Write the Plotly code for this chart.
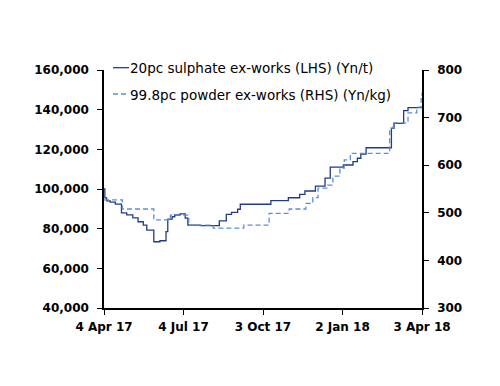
import plotly.graph_objects as go

sulphate_dates = ["2017-04-04","2017-04-05","2017-04-07","2017-04-11","2017-04-17","2017-04-24",
    "2017-04-30","2017-05-07","2017-05-13","2017-05-19","2017-05-23","2017-05-31","2017-06-07",
    "2017-06-14","2017-06-16","2017-06-21","2017-06-24","2017-06-30","2017-07-06","2017-07-09",
    "2017-07-23","2017-08-14","2017-08-22","2017-08-28","2017-09-04","2017-09-07","2017-10-12",
    "2017-11-01","2017-11-14","2017-11-20","2017-12-02","2017-12-13","2017-12-19","2018-01-03",
    "2018-01-14","2018-01-19","2018-01-23","2018-01-29","2018-02-27","2018-03-02","2018-03-13",
    "2018-03-18","2018-04-03"]
sulphate_vals = [100000,95500,94000,93400,92400,88000,87000,85400,83500,81800,79300,73400,73900,
    78500,84800,86000,86900,87500,85300,81800,81500,83900,87200,88200,89800,92300,94100,95600,
    97300,99000,101500,105500,111000,112100,113800,115500,117600,120800,130600,133100,139500,
    141000,141000]

powder_dates = ["2017-04-04","2017-04-25","2017-05-31","2017-06-19","2017-07-10","2017-08-07",
    "2017-09-11","2017-10-10","2017-11-02","2017-11-21","2017-11-29","2017-12-05","2017-12-16",
    "2017-12-22","2017-12-30","2018-01-04","2018-01-11","2018-02-25","2018-03-01","2018-03-18",
    "2018-03-28","2018-04-02","2018-04-03"]
powder_vals = [527,508,485,495,474,468,474,499,508,520,532,552,558,577,594,611,625,678,689,710,
    722,740,752]

x_tickvals = ["2017-04-04","2017-07-04","2017-10-03","2018-01-02","2018-04-03"]
x_ticktext = ["4 Apr 17","4 Jul 17","3 Oct 17","2 Jan 18","3 Apr 18"]

series_names = ["20pc sulphate ex-works (LHS) (Yn/t)", "99.8pc powder ex-works (RHS) (Yn/kg)"]
dark = "#1f3c88"
light = "#5b8fd9"
dash_pat = "5px,3px"

tick_font = dict(family="DejaVu Sans", size=12, color="black", weight="bold")
leg_font = dict(family="DejaVu Sans", size=13.5, color="black")

fig = go.Figure()
fig.add_trace(go.Scatter(x=sulphate_dates, y=sulphate_vals, mode="lines", line_shape="hv",
    name=series_names[0], line=dict(color=dark, width=1.3), showlegend=False))
fig.add_trace(go.Scatter(x=powder_dates, y=powder_vals, mode="lines", line_shape="hv",
    name=series_names[1], yaxis="y2", showlegend=False,
    line=dict(color=light, width=1.3, dash=dash_pat)))

# legend drawn as text + short line samples (plot area 318 x 238 px)
def px_x(p):
    return (p - 104) / 318.0
def px_y(p):
    return (308 - p) / 238.0

leg_rows = [(67.7, dark, "solid"), (94.0, light, dash_pat)]
for (yy, col, ds), name in zip(leg_rows, series_names):
    fig.add_shape(type="line", xref="paper", yref="paper", x0=px_x(113), x1=px_x(129),
                  y0=px_y(yy), y1=px_y(yy), line=dict(color=col, width=1.3, dash=ds))
    fig.add_annotation(xref="paper", yref="paper", x=px_x(128), y=px_y(yy + 0.5),
                       xanchor="left", yanchor="middle", text=name, showarrow=False,
                       font=leg_font)

axis_common = dict(showline=True, linecolor="black", linewidth=1.5, ticks="outside",
                   ticklen=5, tickcolor="black", showgrid=False, zeroline=False,
                   tickfont=tick_font)

fig.update_layout(
    width=500, height=386,
    margin=dict(l=96, r=86, t=62, b=86),
    plot_bgcolor="white", paper_bgcolor="white",
    showlegend=False,
    xaxis=dict(range=["2017-04-04","2018-04-03"], tickvals=x_tickvals, ticktext=x_ticktext,
               ticklabelstandoff=2, **axis_common),
    yaxis=dict(range=[40000,160000], dtick=20000, tickformat=",", ticklabelstandoff=6,
               **axis_common),
    yaxis2=dict(range=[300,800], dtick=100, overlaying="y", side="right", ticklabelstandoff=6,
                **axis_common),
)
fig.write_html("out.html")
